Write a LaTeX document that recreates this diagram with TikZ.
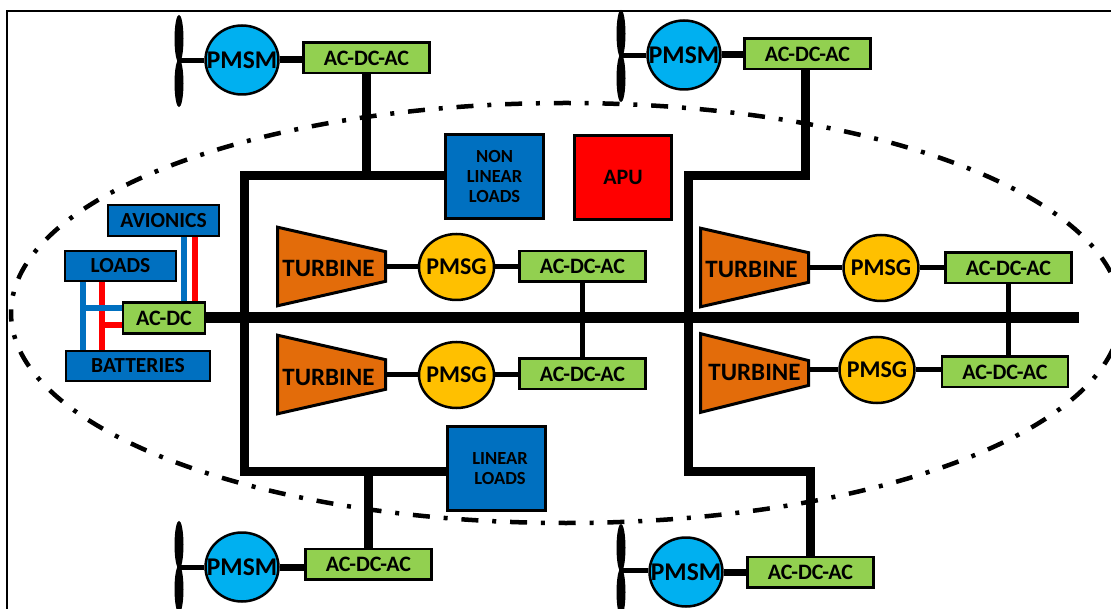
\documentclass[tikz,border=0pt]{standalone}
\usepackage{fontspec}
\setmainfont{Carlito}
\usetikzlibrary{shapes.geometric}
\definecolor{boxblue}{HTML}{0070C0}
\definecolor{boxgreen}{HTML}{92D050}
\definecolor{boxorange}{HTML}{E36C0A}
\definecolor{boxyellow}{HTML}{FFC000}
\definecolor{boxcyan}{HTML}{00B0F0}
\tikzstyle{conv_node} = [
    draw=black,
    fill=boxgreen,
    line width=2.5pt,
    inner sep=0pt,
    font=\fontsize{22}{24}\selectfont\bfseries,
    minimum width=126pt,
    minimum height=30.5pt
]
\tikzstyle{load_node} = [
    draw=black,
    fill=boxblue,
    line width=2.5pt,
    inner sep=0pt,
    align=center,
    font=\fontsize{18.5}{20}\selectfont\bfseries
]
\tikzstyle{small_node} = [
    load_node,
    font=\fontsize{21.5}{24}\selectfont\bfseries,
    minimum height=30pt
]
\tikzstyle{pmsm_node} = [
    ellipse,
    draw=black,
    fill=boxcyan,
    line width=2.5pt,
    inner sep=0pt,
    inner xsep=-12pt,
    font=\fontsize{25.5}{28}\selectfont\bfseries,
    minimum width=73pt,
    minimum height=69pt
]
\tikzstyle{pmsg_node} = [
    ellipse,
    draw=black,
    fill=boxyellow,
    line width=2.5pt,
    inner sep=0pt,
    inner xsep=-8pt,
    font=\fontsize{24}{28}\selectfont\bfseries,
    minimum width=75pt,
    minimum height=66pt
]
\tikzstyle{turbine_node} = [
    trapezium,
    shape border rotate=270,
    trapezium stretches=true,
    trapezium angle=80,
    draw=black,
    fill=boxorange,
    line width=3pt,
    inner sep=0pt,
    text height=21pt,
    text depth=0pt,
    font=\fontsize{25}{28}\selectfont\bfseries,
    minimum width=79pt,
    minimum height=108pt
]
\tikzstyle{blade} = [
    ellipse,
    fill=black,
    inner sep=0pt,
    minimum width=9pt,
    minimum height=48pt
]
\tikzstyle{bus} = [line width=9pt, black]
\tikzstyle{shaft} = [line width=5pt, black]
\tikzstyle{blue_feed} = [line width=6pt, boxblue]
\tikzstyle{red_feed} = [line width=6pt, red]

\begin{document}
\begin{tikzpicture}[x=1pt, y=-1pt]
\useasboundingbox (0,0) rectangle (1111,609);
\coordinate (frameR) at (1111,11);
\coordinate (frameC) at (7,11);
\coordinate (frameB) at (7,609);
\draw [line width=2pt] (frameR) -- (frameC) -- (frameB);

% bus corners
\coordinate (leftTop) at (244,176);
\coordinate (leftBot) at (244,471);
\coordinate (rightTop) at (688,176);
\coordinate (rightBot) at (688,471);
\coordinate (busEnd) at (1079,318);
\coordinate (hubA) at (179,61);
\coordinate (hubB) at (621,56);
\coordinate (hubC) at (179,567);
\coordinate (hubD) at (621,570);

% blades and machines
\foreach \m in {A,B,C,D} {
    \node [blade, anchor=south] (blade\m a) at ([yshift=-2pt]hub\m) {};
    \node [blade, anchor=north] (blade\m b) at ([yshift=2pt]hub\m) {};
}
\node [pmsm_node] (pmsmA) at (242,60) {PMSM};
\node [pmsm_node] (pmsmB) at (684,55) {PMSM};
\node [pmsm_node] (pmsmC) at (242,567) {PMSM};
\node [pmsm_node] (pmsmD) at (686,572) {PMSM};
\node [conv_node] (convA) at (366.5,58) {AC-DC-AC};
\node [conv_node] (convB) at (807.5,54) {AC-DC-AC};
\node [conv_node] (convC) at (368.5,564) {AC-DC-AC};
\node [conv_node] (convD) at (810.5,572) {AC-DC-AC};

% loads
\node [load_node, minimum width=98pt, minimum height=84pt] (nonlinear) at (494.5,176.5) {NON\\LINEAR\\LOADS};
\node [load_node, fill=red, minimum width=97pt, minimum height=84pt, font=\fontsize{22}{24}\selectfont\bfseries] (apu) at (623,177.5) {APU};
\node [load_node, minimum width=98pt, minimum height=84pt] (linear) at (496.5,468.5) {\kern7pt LINEAR\\\kern7pt LOADS};

% turbines
\node [turbine_node] (turbA) at (331.5,266.5) {TURBINE\kern6pt};
\node [turbine_node] (turbB) at (331.5,374.5) {TURBINE\kern6pt};
\node [turbine_node] (turbC) at (754.5,267.5) {TURBINE\kern6pt};
\node [turbine_node, text height=15pt] (turbD) at (754.5,373) {TURBINE};
\node [pmsg_node] (pmsgA) at (456.5,267) {PMSG};
\node [pmsg_node] (pmsgB) at (456.5,375) {PMSG};
\node [pmsg_node] (pmsgC) at (881,268) {PMSG};
\node [pmsg_node] (pmsgD) at (877,370) {PMSG};
\node [conv_node] (convE) at (582.5,266.5) {AC-DC-AC};
\node [conv_node] (convF) at (582.5,374) {AC-DC-AC};
\node [conv_node] (convG) at (1008.5,268) {AC-DC-AC};
\node [conv_node] (convH) at (1005,372) {AC-DC-AC};

% battery side
\node [small_node, minimum width=111pt, minimum height=31pt] (avionics) at (163.5,220.5) {AVIONICS};
\node [small_node, minimum width=111pt] (loads) at (120.5,266) {LOADS};
\node [small_node, minimum width=144pt] (batteries) at (138,366) {BATTERIES};
\node [conv_node, minimum width=82pt, minimum height=31pt] (convDC) at (164,318) {AC-DC};
\coordinate (loadBlue) at (83,282);
\coordinate (loadRed) at (102,282);

% shafts
\foreach \m in {A,B,C,D} {
    \draw [shaft] (hub\m) -- (hub\m -| pmsm\m.west);
    \draw [bus, line width=7pt] (pmsm\m.east) -- (pmsm\m.east -| conv\m.west);
}
\foreach \m/\c in {A/E,B/F,C/G,D/H} {
    \draw [shaft] (pmsg\m.west) -- (pmsg\m.west -| turb\m.east);
    \draw [shaft] (pmsg\m.east) -- (pmsg\m.east -| conv\c.west);
}

% buses
\draw [bus, line width=11pt] (convDC.east) -- (busEnd);
\draw [bus] (nonlinear.west |- leftTop) -- (leftTop) -- (leftBot) -- (linear.west |- leftBot);
\draw [bus] (convA.south) -- (convA.south |- leftTop);
\draw [bus] (convC.north) -- (convC.north |- leftBot);
\draw [bus] ([xshift=-2pt]convB.south) |- (rightTop) -- (rightBot) -| (convD.north);
\draw [shaft] (convE.south) -- (convF.north);
\draw [shaft] (convG.south) -- (convG.south |- convH.north);

% feeds
\draw [blue_feed] (loadBlue) -- (loadBlue |- batteries.north);
\draw [red_feed] (loadRed) -- (loadRed |- batteries.north);
\draw [blue_feed] ([yshift=10pt]convDC.west) -- ([yshift=10pt]convDC.west -| loadBlue);
\draw [red_feed] ([yshift=-7pt]convDC.west) -- ([yshift=-7pt]convDC.west -| loadRed);
\draw [blue_feed] ([xshift=20pt]avionics.south) -- ([xshift=20pt]avionics.south |- convDC.north);
\draw [red_feed] ([xshift=31pt]avionics.south) -- ([xshift=31pt]avionics.south |- convDC.north);

% boundary
\coordinate (ovalLeft) at (11,313);
\draw [line width=4.5pt, dash pattern=on 17pt off 13.85pt on 4pt off 13.85pt, dash phase=8.5pt] (ovalLeft) arc [start angle=180, delta angle=360, x radius=555pt, y radius=210pt];
\end{tikzpicture}
\end{document}
